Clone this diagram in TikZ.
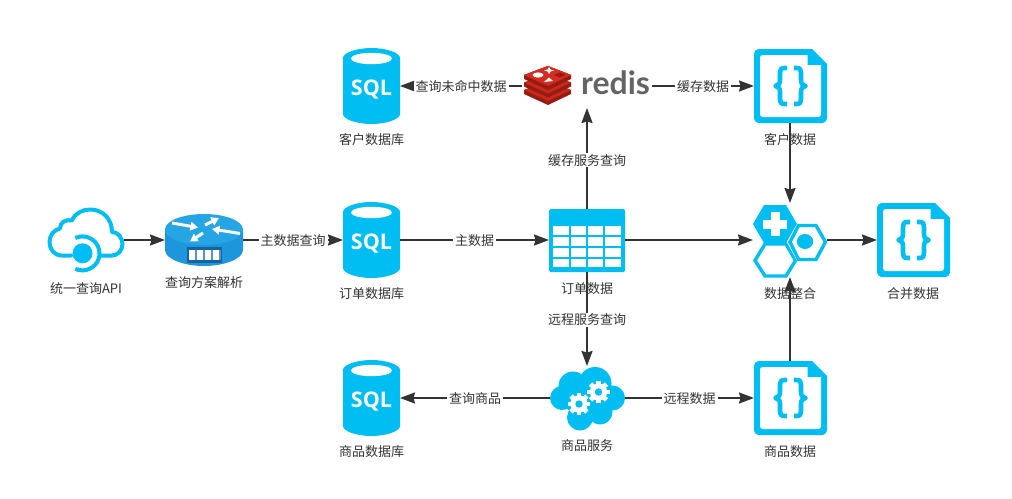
\documentclass[tikz,border=0pt]{standalone}
\usepackage{fontspec}
\setmainfont{Noto Sans CJK SC}
\newfontfamily\sqlfont{Open Sans}
\newfontfamily\redisfont{Lato}
\usetikzlibrary{arrows.meta}
\definecolor{iconblue}{RGB}{0,190,242}
\definecolor{inkgrey}{RGB}{51,51,51}
\definecolor{routertop}{RGB}{38,165,228}
\definecolor{routerside}{RGB}{30,150,220}
\definecolor{routerdark}{RGB}{20,98,160}
\definecolor{redtop}{RGB}{214,44,32}
\definecolor{reddark}{RGB}{150,28,18}
\definecolor{redmid}{RGB}{200,40,28}
\definecolor{redisgrey}{RGB}{100,100,102}
\tikzset{
  box/.style={rectangle,inner sep=0pt,outer sep=0pt},
  caption/.style={text=inkgrey,font=\fontsize{13}{15}\selectfont,inner sep=0pt,yshift=-1pt},
  edgelabel/.style={text=inkgrey,font=\fontsize{13}{15}\selectfont,fill=white,inner xsep=2pt,inner ysep=1pt,yshift=-0.8pt},
  link/.style={draw=inkgrey,line width=2pt,-{Stealth[length=15pt,width=11pt,inset=1.5pt]}},
  bracepath/.style={draw=iconblue,line width=4.6pt,line join=round},
  sqlicon/.pic={
    \fill[iconblue] (-28.5,-28) -- (-28.5,28) .. controls (-28.5,33.5) and (-14,38) .. (0,38)
      .. controls (14,38) and (28.5,33.5) .. (28.5,28) -- (28.5,-28)
      .. controls (28.5,-33.5) and (14,-38) .. (0,-38) .. controls (-14,-38) and (-28.5,-33.5) .. (-28.5,-28) -- cycle;
    \fill[white] (0,-27.5) ellipse [x radius=20.5,y radius=5.7];
    \node[text=white,inner sep=0pt,font=\sqlfont\bfseries\fontsize{21.5}{23}\selectfont] at (0,3.5) {SQL};
  },
  docicon/.pic={
    \fill[iconblue] (-30.5,-37) -- (21.5,-37) -- (36.5,-22) -- (36.5,31)
      .. controls (36.5,35) and (34.5,37) .. (30.5,37) -- (-30.5,37)
      .. controls (-34.5,37) and (-36.5,35) .. (-36.5,31) -- (-36.5,-31)
      .. controls (-36.5,-35) and (-34.5,-37) .. (-30.5,-37) -- cycle;
    \fill[white] (-27.5,-31) -- (17,-31) -- (17,-21) -- (30.5,-21) -- (30.5,28)
      .. controls (30.5,30) and (29.5,31) .. (27.5,31) -- (-27.5,31)
      .. controls (-29.5,31) and (-30.5,30) .. (-30.5,28) -- (-30.5,-28)
      .. controls (-30.5,-30) and (-29.5,-31) .. (-27.5,-31) -- cycle;
    \draw[bracepath] (-3.5,-18) -- (-6,-18) .. controls (-10,-18) and (-10.5,-16) .. (-10.5,-13) -- (-10.5,-6)
      .. controls (-10.5,-2.5) and (-12,-0.5) .. (-15,0) .. controls (-12,0.5) and (-10.5,2.5) .. (-10.5,6)
      -- (-10.5,13) .. controls (-10.5,16) and (-10,18) .. (-6,18) -- (-3.5,18);
    \draw[bracepath] (3.5,-18) -- (6,-18) .. controls (10,-18) and (10.5,-16) .. (10.5,-13) -- (10.5,-6)
      .. controls (10.5,-2.5) and (12,-0.5) .. (15,0) .. controls (12,0.5) and (10.5,2.5) .. (10.5,6)
      -- (10.5,13) .. controls (10.5,16) and (10,18) .. (6,18) -- (3.5,18);
  },
  gearicon/.pic={
    \foreach \a in {0,45,...,315}{
      \fill[white,rotate=\a] (-2.4,-11.2) rectangle (2.4,0);
    }
    \fill[white] (0,0) circle [radius=8.6];
    \fill[iconblue] (0,0) circle [radius=3.7];
  }
}
\begin{document}
\begin{tikzpicture}[x=1pt,y=-1pt]
\useasboundingbox (0,0) rectangle (1012,498);
\fill[white] (0,0) rectangle (1012,498);

% ---------- API cloud
\node[box,minimum width=76pt,minimum height=66pt] (api) at (86,240) {};
\draw[iconblue,line width=4pt,line join=round,line cap=round]
  (71,255.5) -- (62,255.5) .. controls (54,255.5) and (49.5,249) .. (49.5,242)
  .. controls (49.5,235) and (54,230) .. (60,228.5)
  .. controls (60,222) and (66,219) .. (72,220.5)
  .. controls (75,213) and (83,209.5) .. (90,209.5)
  .. controls (103,209.5) and (112,219) .. (112,232)
  .. controls (118,232) and (122.5,238) .. (122.5,244)
  .. controls (122.5,250) and (118,255.5) .. (112,255.5) -- (100.5,255.5);
\draw[iconblue,line width=4pt] (75.3,238) arc [start angle=-115,end angle=115,radius=17];
\fill[iconblue] (82.5,253.3) circle [radius=10];

% ---------- router
\node[box,minimum width=78pt,minimum height=52pt] (router) at (204,240) {};
\fill[routerside] (165,229) -- (165,250) .. controls (165,259) and (184,266) .. (204,266)
  .. controls (224,266) and (243,259) .. (243,250) -- (243,229) -- cycle;
\fill[routertop] (204,229.5) ellipse [x radius=39,y radius=15.5];
\begin{scope}[white,line width=3pt,-{Triangle[length=7.5pt,width=8.5pt]}]
  \draw (172,223) -- (198,227.5);
  \draw (205,225) -- (219,218);
  \draw (240,233.5) -- (212,229);
  \draw (203,233) -- (190,241.5);
\end{scope}
\fill[routerdark] (187,247) rectangle (222,263);
\fill[white] (189,250) rectangle (220,260);
\foreach \cx in {192,200,208,216}{\fill[routerdark!70] (\cx+3.2,250) rectangle (\cx+4.8,260);}

% ---------- databases
\node[box,minimum width=57pt,minimum height=76pt] (custdb) at (371.5,86) {};
\node[box,minimum width=57pt,minimum height=76pt] (orderdb) at (371.5,240) {};
\node[box,minimum width=57pt,minimum height=76pt] (proddb) at (371.5,398) {};
\pic at (custdb.center) {sqlicon};
\pic at (orderdb.center) {sqlicon};
\pic at (proddb.center) {sqlicon};

% ---------- redis
\node[box,minimum width=130pt,minimum height=40pt] (redis) at (587,86) {};
\foreach \o in {15,7.5,0}{
  \fill[reddark] (524,75+\o) -- (524,79+\o) -- (548,90+\o) -- (571,79+\o) -- (571,75+\o) -- (548,66+\o) -- cycle;
  \fill[redmid] (524,75+\o) -- (548,66+\o) -- (571,75+\o) -- (548,86+\o) -- cycle;
}
\fill[redtop] (524,75) -- (548,66) -- (571,75) -- (548,85) -- cycle;
\fill[white] (538,75) ellipse [x radius=5.5,y radius=2.6];
\fill[white] (549,67) -- (550.5,69.5) -- (554,70.5) -- (550.5,71.5) -- (549,74) -- (547.5,71.5) -- (544,70.5) -- (547.5,69.5) -- cycle;
\fill[white] (544,82) -- (553,81) -- (549,77.5) -- cycle;
\fill[reddark] (554,75) -- (560,72.5) -- (566,75) -- (560,77.5) -- cycle;
\node[text=redisgrey,inner sep=0pt,anchor=base,font=\redisfont\bfseries\fontsize{32}{34}\selectfont] at (615.5,94.5) {redis};

% ---------- documents
\node[box,minimum width=73pt,minimum height=74pt] (custdoc) at (790.5,86) {};
\node[box,minimum width=73pt,minimum height=74pt] (proddoc) at (790.5,398) {};
\node[box,minimum width=73pt,minimum height=74pt] (mergedoc) at (913.5,240) {};
\pic at (custdoc.center) {docicon};
\pic at (proddoc.center) {docicon};
\pic at (mergedoc.center) {docicon};

% ---------- table
\node[box,minimum width=76pt,minimum height=63pt] (table) at (587,240.5) {};
\fill[iconblue,rounded corners=1.5pt] (549,209) rectangle (625,272);
\foreach \xa/\xb in {553/568.7,570.7/586,588/603.3,605.3/620.7}{
  \foreach \ya/\yb in {226/235,237/245.7,248/256.7,258.7/267.3}{
    \fill[white] (\xa,\ya) rectangle (\xb,\yb);
  }
}

% ---------- service cloud
\node[box,minimum width=75pt,minimum height=64pt] (service) at (587.5,398) {};
\begin{scope}[iconblue]
  \fill (562,398) circle [radius=12];
  \fill (573,386) circle [radius=14.5];
  \fill (595,383.5) circle [radius=16.5];
  \fill (612.5,398) circle [radius=12.5];
  \fill (580,417.5) circle [radius=13];
  \fill (600,412) circle [radius=12.5];
  \fill (587,398) ellipse [x radius=26,y radius=17];
\end{scope}
\pic at (579,404) {gearicon};
\pic at (598.5,392) {gearicon};

% ---------- merge
\node[box,minimum width=74pt,minimum height=74pt] (merge) at (790,240) {};
\draw[iconblue,line width=3.4pt,line join=miter,fill=white]
  (755,260.5) -- (765,244) -- (786,244) -- (795.5,260.5) -- (786,276) -- (765,276) -- cycle;
\fill[iconblue] (753,224) -- (764,205) -- (786,205) -- (797,224) -- (786,243) -- (764,243) -- cycle;
\fill[white] (770.5,212) rectangle (779.5,236);
\fill[white] (763,219.5) rectangle (787,228.5);
\draw[white,line width=1pt,fill=white]
  (787.5,242) -- (797.5,224) -- (817,224) -- (828,242) -- (817,260.5) -- (797.5,260.5) -- cycle;
\draw[iconblue,line width=3.4pt,line join=miter,fill=white]
  (790,242) -- (798.5,225.5) -- (816,225.5) -- (825.5,242) -- (816,259.5) -- (798.5,259.5) -- cycle;
\fill[iconblue] (805,241.5) ellipse [x radius=8.2,y radius=7.5];

% ---------- captions
\node[caption] at (86,288) {统一查询API};
\node[caption] at (204,282) {查询方案解析};
\node[caption] at (371.5,139) {客户数据库};
\node[caption] at (371.5,293) {订单数据库};
\node[caption] at (371.5,451) {商品数据库};
\node[caption] at (587,287.5) {订单数据};
\node[caption] at (587,445) {商品服务};
\node[caption] at (790,139) {客户数据};
\node[caption] at (790,293) {数据整合};
\node[caption] at (790,451) {商品数据};
\node[caption] at (913,293) {合并数据};

% ---------- connectors
\draw[link] (api.east) -- (router.west);
\draw[link] (router.east) -- node[edgelabel]{主数据查询} (orderdb.west);
\draw[link] (orderdb.east) -- node[edgelabel]{主数据} (table.west |- orderdb.east);
\draw[link] (table.east |- merge.west) -- (merge.west);
\draw[link,shorten >=2pt] (table.north) -- node[edgelabel,pos=.48]{缓存服务查询} (redis.south);
\draw[link] (redis.west) -- node[edgelabel]{查询未命中数据} (custdb.east);
\draw[link] (redis.east) -- node[edgelabel]{缓存数据} (custdoc.west);
\draw[link] (table.south) -- node[edgelabel]{远程服务查询} (service.north -| table.south);
\draw[link] (service.west) -- node[edgelabel]{查询商品} (proddb.east);
\draw[link] (service.east) -- node[edgelabel]{远程数据} (proddoc.west);
\draw[link] (custdoc.south -| merge.north) -- (merge.north);
\draw[link] (proddoc.north -| merge.south) -- (merge.south);
\draw[link] (merge.east) -- (mergedoc.west);
\end{tikzpicture}
\end{document}
